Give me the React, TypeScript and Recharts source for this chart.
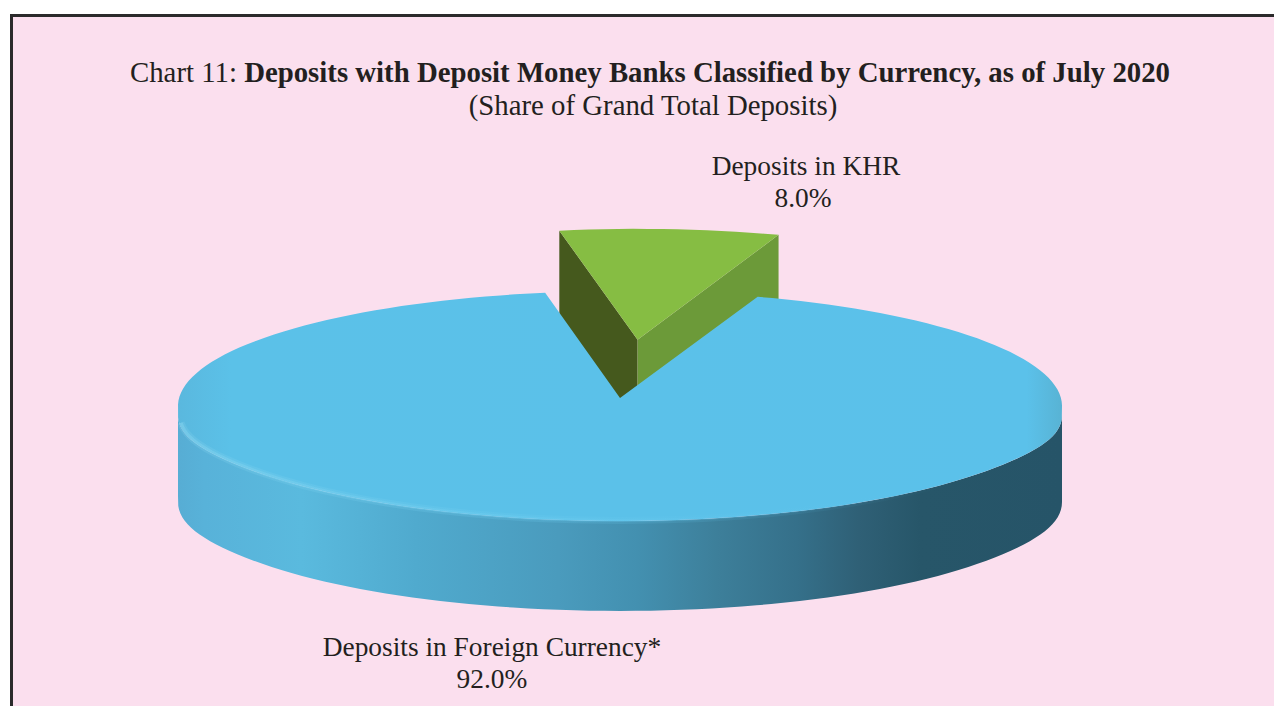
import { Cell, Pie, PieChart } from "recharts";

const sliceNames = ["Deposits in KHR", "Deposits in Foreign Currency*"];
const sliceValues = [8.0, 92.0];
const sliceTops = ["#86bd43", "url(#blueTop)"];
const sliceOffsets = [240, 0];
const titlePrefix = "Chart 11: ";
const titleBold = "Deposits with Deposit Money Banks Classified by Currency, as of July 2020";
const subtitle = "(Share of Grand Total Deposits)";

const data = sliceNames.map((name, i) => ({ name, value: sliceValues[i] }));

const SQUASH = 0.26;
const DEPTH = 90;
const RAD = Math.PI / 180;
const FONT = '"Liberation Serif", serif';
const INK = "#231f20";

// flat ellipse point for a pie angle
function pt(cx: number, cy: number, r: number, deg: number) {
  return [cx + r * Math.cos(deg * RAD), cy - r * Math.sin(deg * RAD) * SQUASH];
}

function arc(cx: number, cy: number, r: number, from: number, to: number, corner = 0) {
  // walks round the ellipse in small steps; corner rounds the ends of the front edge downwards
  const steps = Math.max(2, Math.ceil(Math.abs(to - from) / 2));
  const out: string[] = [];
  for (let i = 0; i <= steps; i++) {
    const deg = from + ((to - from) * i) / steps;
    const [x, y] = pt(cx, cy, r, deg);
    const drop = Math.sin(deg * RAD) <= 0 ? corner * Math.abs(Math.cos(deg * RAD)) ** 14 : 0;
    out.push(`${x.toFixed(2)} ${(y + drop).toFixed(2)}`);
  }
  return out;
}

function Slice3D(props: any) {
  const { cx, cy, outerRadius: r, startAngle, endAngle, midAngle, index } = props;
  const push = sliceOffsets[index] ?? 0;
  const [ox, oy] = pt(cx, cy, push, midAngle);

  if (index === 0) {
    const ay = oy - 4;
    const top = arc(ox, oy, r, startAngle, endAngle);
    const [lx, ly] = pt(ox, oy, r, endAngle);
    const [rx, ry] = pt(ox, oy, r, startAngle);
    return (
      <g>
        <path d={`M${lx} ${ly}L${ox} ${ay}L${ox} ${ay + DEPTH}L${lx} ${ly + DEPTH}Z`} fill="#45591d" />
        <path d={`M${rx} ${ry}L${ox} ${ay}L${ox} ${ay + DEPTH}L${rx} ${ry + DEPTH}Z`} fill="#6c9a39" />
        <path d={`M${ox} ${ay}L${top.join("L")}Z`} fill={sliceTops[0]} />
      </g>
    );
  }

  // the notch in the blue disc is a touch narrower than the raised slice
  const top = arc(ox, oy, r, startAngle - 0.45, endAngle + 0.45, 9);
  // only the front half of the blue rim shows
  const rimTop = arc(ox, oy, r, 180, 360, 9);
  const rimBottom = arc(ox, oy + DEPTH, r, 360, 180, 6);
  const rim = arc(ox, oy, r - 2, 184, 320, 9);
  return (
    <g>
      <path d={`M${rimTop.join("L")}L${rimBottom.join("L")}Z`} fill="url(#blueSide)" />
      <path d={`M${ox} ${oy - 8}L${top.join("L")}Z`} fill={sliceTops[1]} />
      <path d={`M${rim.join("L")}`} fill="none" stroke="url(#blueRim)" strokeWidth={7} strokeOpacity={0.3} />
      <path d={`M${rim.join("L")}`} fill="none" stroke="url(#blueRim)" strokeWidth={3} strokeOpacity={0.6} />
    </g>
  );
}

export default function App() {
  return (
    <div style={{ position: "fixed", left: 0, top: 0, width: 1274, height: 706, overflow: "hidden", background: "#fff", fontFamily: FONT, color: INK }}>
      <div style={{ position: "absolute", left: 10, top: 14, width: 1300, height: 760, boxSizing: "border-box", background: "#fbdfee", border: "3px solid #2b2a2b" }} />
      <div style={{ position: "absolute", left: 0, top: 0 }}>
        <PieChart width={1274} height={706} margin={{ top: 0, right: 0, bottom: 0, left: 0 }}>
          <defs>
            <linearGradient id="blueSide" x1="0" y1="0" x2="1" y2="0">
              <stop offset="0" stopColor="#57add4" />
              <stop offset="0.03" stopColor="#58b2d9" />
              <stop offset="0.14" stopColor="#5abade" />
              <stop offset="0.27" stopColor="#50aace" />
              <stop offset="0.43" stopColor="#4a9bbd" />
              <stop offset="0.52" stopColor="#4390b0" />
              <stop offset="0.61" stopColor="#3d7f9a" />
              <stop offset="0.7" stopColor="#35708a" />
              <stop offset="0.77" stopColor="#2f6076" />
              <stop offset="0.84" stopColor="#275669" />
              <stop offset="1" stopColor="#265468" />
            </linearGradient>
            <linearGradient id="blueTop" x1="0" y1="0" x2="1" y2="0">
              <stop offset="0" stopColor="#5ab8de" />
              <stop offset="0.06" stopColor="#5bc1e8" />
              <stop offset="0.96" stopColor="#5bc1ea" />
              <stop offset="1" stopColor="#58b3d4" />
            </linearGradient>
            <linearGradient id="blueRim" x1="0" y1="0" x2="1" y2="0">
              <stop offset="0" stopColor="#85d3ee" stopOpacity={0.8} />
              <stop offset="0.45" stopColor="#6dccef" stopOpacity={0.7} />
              <stop offset="1" stopColor="#5bc1ea" stopOpacity={0} />
            </linearGradient>
          </defs>
          <Pie
            data={data}
            dataKey="value"
            nameKey="name"
            cx={620}
            cy={406}
            innerRadius={0}
            outerRadius={442}
            startAngle={71.4}
            endAngle={431.4}
            paddingAngle={0}
            stroke="none"
            isAnimationActive={false}
            shape={Slice3D}
          >
            {data.map((d) => (
              <Cell key={d.name} />
            ))}
          </Pie>
        </PieChart>
      </div>
      <div style={{ position: "absolute", left: 0, width: 1300, top: 56, textAlign: "center", fontSize: 28.8, lineHeight: "33px", whiteSpace: "nowrap" }}>
        <div>
          {titlePrefix}
          <b>{titleBold}</b>
        </div>
        <div style={{ position: "relative", left: 3 }}>{subtitle}</div>
      </div>
      <div style={{ position: "absolute", left: 606, width: 400, top: 150, textAlign: "center", fontSize: 27.4, lineHeight: "32px" }}>
        <div>{sliceNames[0]}</div>
        <div style={{ position: "relative", left: -3 }}>{sliceValues[0].toFixed(1)}%</div>
      </div>
      <div style={{ position: "absolute", left: 242, width: 500, top: 631, textAlign: "center", fontSize: 27.4, lineHeight: "32px" }}>
        <div>{sliceNames[1]}</div>
        <div>{sliceValues[1].toFixed(1)}%</div>
      </div>
    </div>
  );
}
